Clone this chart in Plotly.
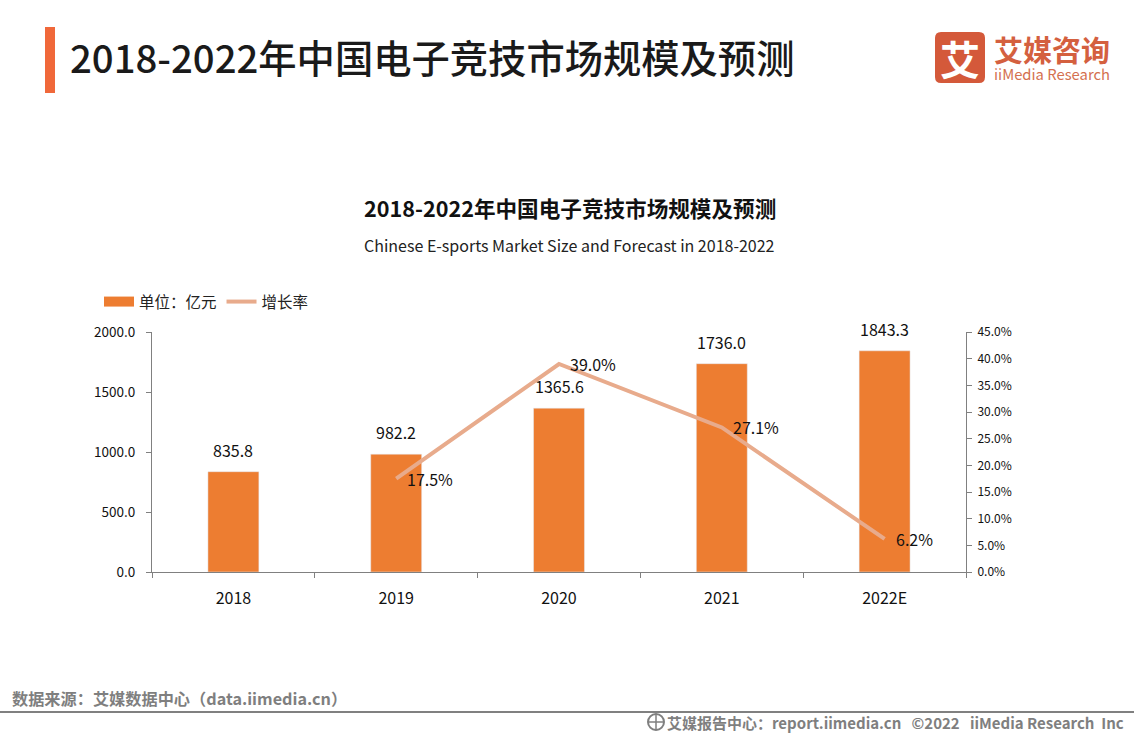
import plotly.graph_objects as go

categories = ["2018", "2019", "2020", "2021", "2022E"]
market_size = [835.8, 982.2, 1365.6, 1736.0, 1843.3]
growth_rate = [None, 17.5, 39.0, 27.1, 6.2]
size_labels = ["835.8", "982.2", "1365.6", "1736.0", "1843.3"]
growth_labels = [None, "17.5%", "39.0%", "27.1%", "6.2%"]

W, H = 1134, 737
L, R, T, B = 152, 966, 332, 572
CJK = "Noto Sans CJK SC"

def px(x):
    return (x - L) / (R - L)

def py(y):
    return (B - y) / (B - T)

fig = go.Figure()
fig.add_trace(go.Bar(x=categories, y=market_size, name="单位：亿元", showlegend=False,
                     marker_color="#ed7d31", width=0.313, yaxis="y"))
fig.add_trace(go.Scatter(x=[None], y=[None], name="单位：亿元", mode="lines",
                         line=dict(color="#ed7d31", width=10), yaxis="y"))
fig.add_trace(go.Scatter(x=categories, y=growth_rate, name="增长率", mode="lines",
                         line=dict(color="#e8ab8c", width=4), yaxis="y2"))

annotations = []
for i, (v, t) in enumerate(zip(market_size, size_labels)):
    annotations.append(dict(x=i, y=v, xref="x", yref="y", text=t, showarrow=False,
                            yshift=22, font=dict(size=16, color="#111111", family=CJK)))
for i, (v, t) in enumerate(zip(growth_rate, growth_labels)):
    if v is not None:
        annotations.append(dict(x=i, y=v, xref="x", yref="y2", text=t, showarrow=False,
                                xanchor="left", xshift=9, font=dict(size=16, color="#111111", family=CJK)))

def note(x, y, text, size, color, weight=400, anchor="left"):
    annotations.append(dict(x=px(x), y=py(y), xref="paper", yref="paper", text=text, showarrow=False,
                            xanchor=anchor, yanchor="middle",
                            font=dict(size=size, color=color, family=CJK, weight=weight)))

note(68, 56, "2018-2022年中国电子竞技市场规模及预测", 38.3, "#1a1a1a", 500)
note(569.5, 207, "2018-2022年中国电子竞技市场规模及预测", 21.6, "#111111", 700, "center")
note(569.5, 245, "Chinese E-sports Market Size and Forecast in 2018-2022", 16, "#222222", 400, "center")
note(960, 58, "艾", 40, "#ffffff", 700, "center")
note(992, 49, "艾媒咨询", 29, "#d4603f", 700)
note(992, 73, "iiMedia Research", 14.8, "#d4704f")
note(10, 698, "数据来源：艾媒数据中心（data.iimedia.cn）", 16.2, "#7f7f7f", 700)
note(1126, 722, "艾媒报告中心：report.iimedia.cn   ©2022   iiMedia Research  Inc", 15, "#7f7f7f", 700, "right")

def rect(x0, y0, x1, y1, color):
    return dict(type="rect", xref="paper", yref="paper", x0=px(x0), x1=px(x1), y0=py(y0), y1=py(y1),
                fillcolor=color, line=dict(width=0), layer="below")

shapes = [
    rect(45, 27, 55, 93, "#f0683a"),
    rect(0, 711, 1134, 713, "#808080"),
    dict(type="path", xref="paper", yref="paper", layer="below", fillcolor="#d4593a", line=dict(width=0),
         path=" ".join([
             f"M {px(941)} {py(32)} L {px(979)} {py(32)} Q {px(985)} {py(32)} {px(985)} {py(38)}",
             f"L {px(985)} {py(77)} Q {px(985)} {py(83)} {px(979)} {py(83)}",
             f"L {px(941)} {py(83)} Q {px(935)} {py(83)} {px(935)} {py(77)}",
             f"L {px(935)} {py(38)} Q {px(935)} {py(32)} {px(941)} {py(32)} Z"])),
    dict(type="circle", xref="paper", yref="paper", x0=px(648), x1=px(664), y0=py(714), y1=py(730),
         line=dict(color="#7f7f7f", width=2)),
    dict(type="line", xref="paper", yref="paper", x0=px(648), x1=px(664), y0=py(722), y1=py(722),
         line=dict(color="#7f7f7f", width=1.5)),
    dict(type="line", xref="paper", yref="paper", x0=px(656), x1=px(656), y0=py(714), y1=py(730),
         line=dict(color="#7f7f7f", width=1.5)),
]

axis_line = "#808080"
fig.update_layout(
    width=W, height=H, margin=dict(l=L, r=W - R, t=T, b=H - B),
    paper_bgcolor="#ffffff", plot_bgcolor="#ffffff",
    font=dict(family=CJK, size=14, color="#222222"),
    showlegend=True,
    legend=dict(orientation="h", x=px(99), y=py(285), xanchor="left", yanchor="top",
                font=dict(size=15.5, color="#222222"), bgcolor="rgba(0,0,0,0)", itemwidth=30,
                traceorder="normal"),
    xaxis=dict(type="category", showgrid=False, showline=True, linecolor=axis_line, linewidth=1,
               ticks="outside", tickson="boundaries", ticklen=5, tickcolor=axis_line,
               tickfont=dict(size=16, color="#111111"), range=[-0.5, 4.5], ticklabelstandoff=12,
               fixedrange=True),
    yaxis=dict(range=[0, 2000], dtick=500, tickformat=".1f", showgrid=False, zeroline=False,
               showline=True, linecolor=axis_line, linewidth=1, ticks="outside", ticklen=5,
               tickcolor=axis_line, tickfont=dict(size=13.5, color="#111111"), ticklabelstandoff=8,
               fixedrange=True),
    yaxis2=dict(range=[0, 45], dtick=5, tickformat=".1f", ticksuffix="%", overlaying="y", side="right",
                showgrid=False, zeroline=False, showline=True, linecolor=axis_line, linewidth=1,
                ticks="outside", ticklen=5, tickcolor=axis_line, tickfont=dict(size=12, color="#111111"),
                ticklabelstandoff=3, fixedrange=True),
    annotations=annotations,
    shapes=shapes,
)
fig.write_html("out.html", config=dict(displayModeBar=False),
               post_script="document.body.style.margin='0';")
